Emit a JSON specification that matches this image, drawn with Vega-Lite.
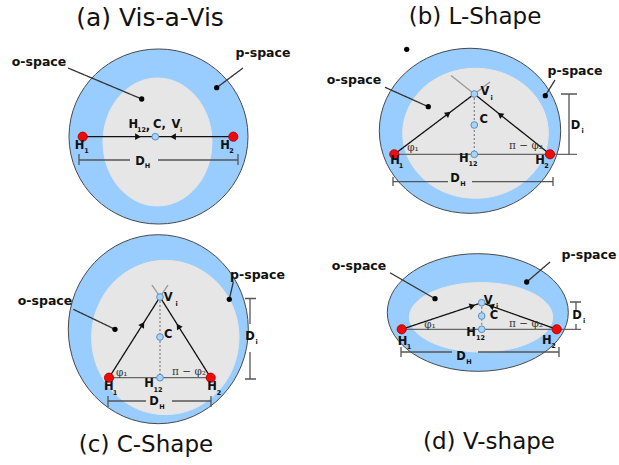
{
  "$schema": "https://vega.github.io/schema/vega-lite/v6.json",
  "width": 619,
  "height": 465,
  "autosize": {"type": "fit", "contains": "padding"},
  "padding": 0,
  "background": "white",
  "config": {"view": {"stroke": null}},
  "datasets": {
    "ellipses": [
      {"id": "a-p", "zone": "p-space", "x": 158.5, "y": 136.5, "rx": 89.5},
      {"id": "b-p", "zone": "p-space", "x": 470, "y": 130.8, "rx": 90.7},
      {"id": "c-p", "zone": "p-space", "x": 158.3, "y": 329.2, "rx": 90},
      {"id": "d-p", "zone": "p-space", "x": 477.8, "y": 312.5, "rx": 90.5},
      {"id": "a-o", "zone": "o-space", "x": 157.5, "y": 142, "rx": 54.5},
      {"id": "b-o", "zone": "o-space", "x": 475.5, "y": 133.3, "rx": 72.8},
      {"id": "c-o", "zone": "o-space", "x": 165.3, "y": 337.5, "rx": 73.7},
      {"id": "d-o", "zone": "o-space", "x": 481, "y": 317.3, "rx": 71.7}
    ],
    "segments": [
      {"x": 82.7, "y": 136.7, "x2": 152, "y2": 136.7, "style": "arrow"},
      {"x": 233.3, "y": 136.7, "x2": 159, "y2": 136.7, "style": "arrow"},
      {"x": 79, "y": 160, "x2": 130, "y2": 160, "style": "dim"},
      {"x": 158, "y": 160, "x2": 238, "y2": 160, "style": "dim"},
      {"x": 79, "y": 154, "x2": 79, "y2": 165, "style": "dim"},
      {"x": 238, "y": 154, "x2": 238, "y2": 165, "style": "dim"},
      {"x": 68, "y": 68, "x2": 141.7, "y2": 99, "style": "leader"},
      {"x": 243, "y": 68, "x2": 216.7, "y2": 87.7, "style": "leader"},
      {"x": 394.3, "y": 154.3, "x2": 577, "y2": 154.3, "style": "base"},
      {"x": 394.3, "y": 154.3, "x2": 474.3, "y2": 94, "style": "arrow"},
      {"x": 550, "y": 154.3, "x2": 474.3, "y2": 94, "style": "arrow"},
      {"x": 474.3, "y": 94, "x2": 451, "y2": 75.5, "style": "ext"},
      {"x": 474.3, "y": 94, "x2": 490, "y2": 82, "style": "ext"},
      {"x": 474.3, "y": 94, "x2": 474.3, "y2": 154.3, "style": "dotted"},
      {"x": 569, "y": 94, "x2": 569, "y2": 154.3, "style": "dim"},
      {"x": 561, "y": 94, "x2": 577, "y2": 94, "style": "dim"},
      {"x": 393, "y": 181.7, "x2": 448, "y2": 181.7, "style": "dim"},
      {"x": 472, "y": 181.7, "x2": 553, "y2": 181.7, "style": "dim"},
      {"x": 393, "y": 177, "x2": 393, "y2": 186, "style": "dim"},
      {"x": 553, "y": 177, "x2": 553, "y2": 186, "style": "dim"},
      {"x": 385, "y": 87.3, "x2": 428.3, "y2": 106.7, "style": "leader"},
      {"x": 555, "y": 80, "x2": 545.3, "y2": 95.7, "style": "leader"},
      {"x": 109, "y": 377.7, "x2": 210.7, "y2": 377.7, "style": "base"},
      {"x": 109, "y": 377.7, "x2": 160, "y2": 297, "style": "arrow"},
      {"x": 210.7, "y": 377.7, "x2": 160, "y2": 297, "style": "arrow"},
      {"x": 160, "y": 297, "x2": 152, "y2": 285, "style": "ext"},
      {"x": 160, "y": 297, "x2": 168, "y2": 285, "style": "ext"},
      {"x": 160, "y": 297, "x2": 160, "y2": 377.7, "style": "dotted"},
      {"x": 250, "y": 298.5, "x2": 250, "y2": 324, "style": "dim"},
      {"x": 250, "y": 352, "x2": 250, "y2": 379, "style": "dim"},
      {"x": 245, "y": 298.5, "x2": 256, "y2": 298.5, "style": "dim"},
      {"x": 245, "y": 379, "x2": 256, "y2": 379, "style": "dim"},
      {"x": 108, "y": 401, "x2": 146, "y2": 401, "style": "dim"},
      {"x": 172, "y": 401, "x2": 211, "y2": 401, "style": "dim"},
      {"x": 108, "y": 396, "x2": 108, "y2": 407, "style": "dim"},
      {"x": 211, "y": 396, "x2": 211, "y2": 407, "style": "dim"},
      {"x": 73.3, "y": 309.3, "x2": 115, "y2": 329.3, "style": "leader"},
      {"x": 233.3, "y": 282, "x2": 229.3, "y2": 299.3, "style": "leader"},
      {"x": 401.7, "y": 329.3, "x2": 581, "y2": 329.3, "style": "base"},
      {"x": 401.7, "y": 329.3, "x2": 481.7, "y2": 302.7, "style": "arrow"},
      {"x": 556.7, "y": 329.3, "x2": 481.7, "y2": 302.7, "style": "arrow"},
      {"x": 481.7, "y": 302.7, "x2": 481.7, "y2": 329.3, "style": "dotted"},
      {"x": 576, "y": 302, "x2": 576, "y2": 310, "style": "dim"},
      {"x": 576, "y": 324, "x2": 576, "y2": 329.3, "style": "dim"},
      {"x": 570, "y": 302, "x2": 581, "y2": 302, "style": "dim"},
      {"x": 401, "y": 352, "x2": 452, "y2": 352, "style": "dim"},
      {"x": 478, "y": 352, "x2": 559, "y2": 352, "style": "dim"},
      {"x": 401, "y": 347, "x2": 401, "y2": 357, "style": "dim"},
      {"x": 559, "y": 347, "x2": 559, "y2": 357, "style": "dim"},
      {"x": 390, "y": 272.7, "x2": 435, "y2": 298.7, "style": "leader"},
      {"x": 550, "y": 262, "x2": 526.7, "y2": 282, "style": "leader"}
    ],
    "arrows": [
      {"x": 138, "y": 136.7, "dir": 0},
      {"x": 173, "y": 136.7, "dir": 180},
      {"x": 448.3, "y": 113.6, "dir": 323},
      {"x": 500, "y": 114.5, "dir": 218.5},
      {"x": 142.7, "y": 324.4, "dir": 302.3},
      {"x": 178.3, "y": 326.1, "dir": 237.9},
      {"x": 472.5, "y": 305.8, "dir": 341.6},
      {"x": 491, "y": 306, "dir": 199.5}
    ],
    "dots": [
      {"x": 82.7, "y": 136.7, "kind": "head"},
      {"x": 233.3, "y": 136.7, "kind": "head"},
      {"x": 394.3, "y": 154.3, "kind": "head"},
      {"x": 550, "y": 154.3, "kind": "head"},
      {"x": 109, "y": 377.7, "kind": "head"},
      {"x": 210.7, "y": 377.7, "kind": "head"},
      {"x": 401.7, "y": 329.3, "kind": "head"},
      {"x": 556.7, "y": 329.3, "kind": "head"},
      {"x": 155.3, "y": 136.7, "kind": "centre"},
      {"x": 474.3, "y": 154.3, "kind": "centre"},
      {"x": 474.3, "y": 125, "kind": "centre"},
      {"x": 474.3, "y": 94, "kind": "centre"},
      {"x": 160, "y": 377.7, "kind": "centre"},
      {"x": 160, "y": 337, "kind": "centre"},
      {"x": 160, "y": 297, "kind": "centre"},
      {"x": 481.7, "y": 329.3, "kind": "centre"},
      {"x": 481.7, "y": 316, "kind": "centre"},
      {"x": 481.7, "y": 302.7, "kind": "centre"},
      {"x": 141.7, "y": 99, "kind": "mark"},
      {"x": 216.7, "y": 87.7, "kind": "mark"},
      {"x": 406.7, "y": 49.3, "kind": "mark"},
      {"x": 428.3, "y": 106.7, "kind": "mark"},
      {"x": 545.3, "y": 95.7, "kind": "mark"},
      {"x": 115, "y": 329.3, "kind": "mark"},
      {"x": 229.3, "y": 299.3, "kind": "mark"},
      {"x": 435, "y": 298.7, "kind": "mark"},
      {"x": 526.7, "y": 282, "kind": "mark"}
    ],
    "texts": [
      {"text": "(a) Vis-a-Vis", "x": 150, "y": 18, "kind": "title-wide"},
      {"text": "(b) L-Shape", "x": 475, "y": 17, "kind": "title"},
      {"text": "(c) C-Shape", "x": 146, "y": 445, "kind": "title"},
      {"text": "(d) V-shape", "x": 489, "y": 442, "kind": "title"},
      {"text": "o-space", "x": 39, "y": 62, "kind": "zone"},
      {"text": "p-space", "x": 263, "y": 53, "kind": "zone"},
      {"text": "H", "x": 79.5, "y": 145.5, "kind": "label"},
      {"text": "H", "x": 225, "y": 145.5, "kind": "label"},
      {"text": "H", "x": 133.3, "y": 125, "kind": "label"},
      {"text": ",", "x": 148, "y": 126.5, "kind": "label"},
      {"text": "C,", "x": 159.5, "y": 125, "kind": "label"},
      {"text": "V", "x": 176, "y": 125, "kind": "label"},
      {"text": "D", "x": 140, "y": 161.7, "kind": "label"},
      {"text": "o-space", "x": 354, "y": 80, "kind": "zone"},
      {"text": "p-space", "x": 575, "y": 71, "kind": "zone"},
      {"text": "V", "x": 485, "y": 92.3, "kind": "label"},
      {"text": "C", "x": 483.7, "y": 120, "kind": "label"},
      {"text": "D", "x": 575.5, "y": 126, "kind": "label"},
      {"text": "H", "x": 395, "y": 160.5, "kind": "label"},
      {"text": "H", "x": 463.7, "y": 158.5, "kind": "label"},
      {"text": "H", "x": 540, "y": 161, "kind": "label"},
      {"text": "D", "x": 455, "y": 179, "kind": "label"},
      {"text": "o-space", "x": 45, "y": 301.3, "kind": "zone"},
      {"text": "p-space", "x": 257.5, "y": 275.3, "kind": "zone"},
      {"text": "V", "x": 168.3, "y": 298.3, "kind": "label"},
      {"text": "C", "x": 168.3, "y": 335, "kind": "label"},
      {"text": "D", "x": 250, "y": 337, "kind": "label"},
      {"text": "H", "x": 108.8, "y": 387.3, "kind": "label"},
      {"text": "H", "x": 149, "y": 384, "kind": "label"},
      {"text": "H", "x": 212, "y": 387.3, "kind": "label"},
      {"text": "D", "x": 154, "y": 401.5, "kind": "label"},
      {"text": "o-space", "x": 359, "y": 266.3, "kind": "zone"},
      {"text": "p-space", "x": 589, "y": 255.3, "kind": "zone"},
      {"text": "V", "x": 488.3, "y": 300.5, "kind": "label"},
      {"text": "C", "x": 494, "y": 316, "kind": "label"},
      {"text": "D", "x": 577, "y": 316, "kind": "label"},
      {"text": "H", "x": 402.5, "y": 341.7, "kind": "label"},
      {"text": "H", "x": 471, "y": 333, "kind": "label"},
      {"text": "H", "x": 546.7, "y": 340.5, "kind": "label"},
      {"text": "D", "x": 461, "y": 357, "kind": "label"},
      {"text": "1", "x": 86.5, "y": 151, "kind": "sub"},
      {"text": "2", "x": 231.5, "y": 151, "kind": "sub"},
      {"text": "12", "x": 141.5, "y": 129.5, "kind": "sub"},
      {"text": "i", "x": 181, "y": 130, "kind": "sub"},
      {"text": "H", "x": 147.5, "y": 165.5, "kind": "sub"},
      {"text": "i", "x": 491.5, "y": 97.5, "kind": "sub"},
      {"text": "i", "x": 582.5, "y": 131, "kind": "sub"},
      {"text": "1", "x": 401, "y": 165.5, "kind": "sub"},
      {"text": "12", "x": 473, "y": 164, "kind": "sub"},
      {"text": "2", "x": 546.5, "y": 166, "kind": "sub"},
      {"text": "H", "x": 463, "y": 184, "kind": "sub"},
      {"text": "i", "x": 176.5, "y": 303.5, "kind": "sub"},
      {"text": "i", "x": 256.5, "y": 342, "kind": "sub"},
      {"text": "1", "x": 115, "y": 393, "kind": "sub"},
      {"text": "12", "x": 158, "y": 390, "kind": "sub"},
      {"text": "2", "x": 219, "y": 393, "kind": "sub"},
      {"text": "H", "x": 162, "y": 406.5, "kind": "sub"},
      {"text": "i", "x": 497, "y": 305.5, "kind": "sub"},
      {"text": "i", "x": 584, "y": 321, "kind": "sub"},
      {"text": "1", "x": 409, "y": 347, "kind": "sub"},
      {"text": "12", "x": 480.5, "y": 338, "kind": "sub"},
      {"text": "2", "x": 553.5, "y": 346, "kind": "sub"},
      {"text": "H", "x": 469, "y": 362, "kind": "sub"},
      {"text": "φ₁", "x": 413, "y": 148, "kind": "greek"},
      {"text": "π − φ₂", "x": 526, "y": 146, "kind": "greek"},
      {"text": "φ₁", "x": 121.7, "y": 372.5, "kind": "greek"},
      {"text": "π − φ₂", "x": 189, "y": 372, "kind": "greek"},
      {"text": "φ₁", "x": 430, "y": 325, "kind": "greek"},
      {"text": "π − φ₂", "x": 526, "y": 324, "kind": "greek"}
    ]
  },
  "layer": [
    {
      "data": {"name": "ellipses"},
      "mark": {"type": "point", "filled": true, "opacity": 1, "strokeWidth": 1},
      "encoding": {
        "x": {"field": "x", "type": "quantitative", "scale": {"domain": [0, 619], "nice": false, "zero": false}, "axis": null},
        "y": {"field": "y", "type": "quantitative", "scale": {"domain": [0, 465], "nice": false, "zero": false, "reverse": true}, "axis": null},
        "shape": {
          "field": "id", "type": "nominal", "legend": null,
          "scale": {
            "domain": ["a-p", "b-p", "c-p", "d-p", "a-o", "b-o", "c-o", "d-o"],
            "range": [
              "M1,0C1,0.5401,0.5523,0.978,0,0.978C-0.5523,0.978,-1,0.5401,-1,0C-1,-0.5401,-0.5523,-0.978,0,-0.978C0.5523,-0.978,1,-0.5401,1,0Z",
              "M1,0C1,0.5026,0.5523,0.91,0,0.91C-0.5523,0.91,-1,0.5026,-1,0C-1,-0.5026,-0.5523,-0.91,0,-0.91C0.5523,-0.91,1,-0.5026,1,0Z",
              "M1,0C1,0.5799,0.5523,1.05,0,1.05C-0.5523,1.05,-1,0.5799,-1,0C-1,-0.5799,-0.5523,-1.05,0,-1.05C0.5523,-1.05,1,-0.5799,1,0Z",
              "M1,0C1,0.359,0.5523,0.65,0,0.65C-0.5523,0.65,-1,0.359,-1,0C-1,-0.359,-0.5523,-0.65,0,-0.65C0.5523,-0.65,1,-0.359,1,0Z",
              "M1,0C1,0.6484,0.5523,1.174,0,1.174C-0.5523,1.174,-1,0.6484,-1,0C-1,-0.6484,-0.5523,-1.174,0,-1.174C0.5523,-1.174,1,-0.6484,1,0Z",
              "M1,0C1,0.4932,0.5523,0.893,0,0.893C-0.5523,0.893,-1,0.4932,-1,0C-1,-0.4932,-0.5523,-0.893,0,-0.893C0.5523,-0.893,1,-0.4932,1,0Z",
              "M1,0C1,0.5783,0.5523,1.047,0,1.047C-0.5523,1.047,-1,0.5783,-1,0C-1,-0.5783,-0.5523,-1.047,0,-1.047C0.5523,-1.047,1,-0.5783,1,0Z",
              "M1,0C1,0.2673,0.5523,0.484,0,0.484C-0.5523,0.484,-1,0.2673,-1,0C-1,-0.2673,-0.5523,-0.484,0,-0.484C0.5523,-0.484,1,-0.2673,1,0Z"
            ]
          }
        },
        "size": {"field": "rx", "type": "quantitative", "legend": null, "scale": {"type": "pow", "exponent": 2, "domain": [0, 100], "range": [0, 40000]}},
        "fill": {"field": "zone", "type": "nominal", "legend": null, "scale": {"domain": ["p-space", "o-space"], "range": ["#99ccff", "#e6e6e6"]}},
        "stroke": {"field": "zone", "type": "nominal", "legend": null, "scale": {"domain": ["p-space", "o-space"], "range": ["#4a4a4a", "#e6e6e6"]}}
      }
    },
    {
      "data": {"name": "segments"},
      "mark": {"type": "rule"},
      "encoding": {
        "x": {"field": "x", "type": "quantitative", "scale": {"domain": [0, 619], "nice": false, "zero": false}, "axis": null},
        "y": {"field": "y", "type": "quantitative", "scale": {"domain": [0, 465], "nice": false, "zero": false, "reverse": true}, "axis": null},
        "x2": {"field": "x2"},
        "y2": {"field": "y2"},
        "color": {"field": "style", "type": "nominal", "legend": null, "scale": {"domain": ["arrow", "base", "dim", "leader", "dotted", "ext"], "range": ["#111111", "#666666", "#555555", "#333333", "#888888", "#999999"]}},
        "strokeWidth": {"field": "style", "type": "nominal", "legend": null, "scale": {"domain": ["arrow", "base", "dim", "leader", "dotted", "ext"], "range": [1.3, 1.3, 1, 0.8, 1, 0.8]}},
        "strokeDash": {"field": "style", "type": "nominal", "legend": null, "scale": {"domain": ["arrow", "base", "dim", "leader", "dotted", "ext"], "range": [[1, 0], [1, 0], [1, 0], [1, 0], [2, 2], [1, 0]]}}
      }
    },
    {
      "data": {"name": "arrows"},
      "mark": {"type": "point", "shape": "triangle-right", "filled": true, "color": "#111111", "opacity": 1, "size": 45},
      "encoding": {
        "x": {"field": "x", "type": "quantitative", "scale": {"domain": [0, 619], "nice": false, "zero": false}, "axis": null},
        "y": {"field": "y", "type": "quantitative", "scale": {"domain": [0, 465], "nice": false, "zero": false, "reverse": true}, "axis": null},
        "angle": {"field": "dir", "type": "quantitative", "scale": {"domain": [0, 360], "range": [0, 360]}}
      }
    },
    {
      "data": {"name": "dots"},
      "transform": [{"filter": "datum.kind === 'head'"}],
      "mark": {"type": "circle", "fill": "#f00a0a", "stroke": "#a00000", "strokeWidth": 0.8, "opacity": 1, "size": 85},
      "encoding": {
        "x": {"field": "x", "type": "quantitative", "scale": {"domain": [0, 619], "nice": false, "zero": false}, "axis": null},
        "y": {"field": "y", "type": "quantitative", "scale": {"domain": [0, 465], "nice": false, "zero": false, "reverse": true}, "axis": null}
      }
    },
    {
      "data": {"name": "dots"},
      "transform": [{"filter": "datum.kind === 'centre'"}],
      "mark": {"type": "circle", "fill": "#a9d3f7", "stroke": "#5a8fc4", "strokeWidth": 1, "opacity": 1, "size": 45},
      "encoding": {
        "x": {"field": "x", "type": "quantitative", "scale": {"domain": [0, 619], "nice": false, "zero": false}, "axis": null},
        "y": {"field": "y", "type": "quantitative", "scale": {"domain": [0, 465], "nice": false, "zero": false, "reverse": true}, "axis": null}
      }
    },
    {
      "data": {"name": "dots"},
      "transform": [{"filter": "datum.kind === 'mark'"}],
      "mark": {"type": "circle", "fill": "#000000", "opacity": 1, "size": 28},
      "encoding": {
        "x": {"field": "x", "type": "quantitative", "scale": {"domain": [0, 619], "nice": false, "zero": false}, "axis": null},
        "y": {"field": "y", "type": "quantitative", "scale": {"domain": [0, 465], "nice": false, "zero": false, "reverse": true}, "axis": null}
      }
    },
    {
      "data": {"name": "texts"},
      "transform": [{"filter": "datum.kind === 'title'"}],
      "mark": {"type": "text", "font": "DejaVu Sans", "fontSize": 23, "color": "#111111", "align": "center", "baseline": "middle"},
      "encoding": {
        "x": {"field": "x", "type": "quantitative", "scale": {"domain": [0, 619], "nice": false, "zero": false}, "axis": null},
        "y": {"field": "y", "type": "quantitative", "scale": {"domain": [0, 465], "nice": false, "zero": false, "reverse": true}, "axis": null},
        "text": {"field": "text"}
      }
    },
    {
      "data": {"name": "texts"},
      "transform": [{"filter": "datum.kind === 'title-wide'"}],
      "mark": {"type": "text", "font": "DejaVu Sans", "fontSize": 25, "color": "#111111", "align": "center", "baseline": "middle"},
      "encoding": {
        "x": {"field": "x", "type": "quantitative", "scale": {"domain": [0, 619], "nice": false, "zero": false}, "axis": null},
        "y": {"field": "y", "type": "quantitative", "scale": {"domain": [0, 465], "nice": false, "zero": false, "reverse": true}, "axis": null},
        "text": {"field": "text"}
      }
    },
    {
      "data": {"name": "texts"},
      "transform": [{"filter": "datum.kind === 'zone'"}],
      "mark": {"type": "text", "font": "DejaVu Sans", "fontWeight": "bold", "fontSize": 12.5, "color": "#111111", "align": "center", "baseline": "middle"},
      "encoding": {
        "x": {"field": "x", "type": "quantitative", "scale": {"domain": [0, 619], "nice": false, "zero": false}, "axis": null},
        "y": {"field": "y", "type": "quantitative", "scale": {"domain": [0, 465], "nice": false, "zero": false, "reverse": true}, "axis": null},
        "text": {"field": "text"}
      }
    },
    {
      "data": {"name": "texts"},
      "transform": [{"filter": "datum.kind === 'label'"}],
      "mark": {"type": "text", "font": "DejaVu Sans", "fontWeight": "bold", "fontSize": 11.5, "color": "#111111", "align": "center", "baseline": "middle"},
      "encoding": {
        "x": {"field": "x", "type": "quantitative", "scale": {"domain": [0, 619], "nice": false, "zero": false}, "axis": null},
        "y": {"field": "y", "type": "quantitative", "scale": {"domain": [0, 465], "nice": false, "zero": false, "reverse": true}, "axis": null},
        "text": {"field": "text"}
      }
    },
    {
      "data": {"name": "texts"},
      "transform": [{"filter": "datum.kind === 'sub'"}],
      "mark": {"type": "text", "font": "DejaVu Sans", "fontWeight": "bold", "fontSize": 6.5, "color": "#111111", "align": "center", "baseline": "middle"},
      "encoding": {
        "x": {"field": "x", "type": "quantitative", "scale": {"domain": [0, 619], "nice": false, "zero": false}, "axis": null},
        "y": {"field": "y", "type": "quantitative", "scale": {"domain": [0, 465], "nice": false, "zero": false, "reverse": true}, "axis": null},
        "text": {"field": "text"}
      }
    },
    {
      "data": {"name": "texts"},
      "transform": [{"filter": "datum.kind === 'greek'"}],
      "mark": {"type": "text", "font": "DejaVu Serif", "fontSize": 10.5, "color": "#333333", "align": "center", "baseline": "middle"},
      "encoding": {
        "x": {"field": "x", "type": "quantitative", "scale": {"domain": [0, 619], "nice": false, "zero": false}, "axis": null},
        "y": {"field": "y", "type": "quantitative", "scale": {"domain": [0, 465], "nice": false, "zero": false, "reverse": true}, "axis": null},
        "text": {"field": "text"}
      }
    }
  ]
}
